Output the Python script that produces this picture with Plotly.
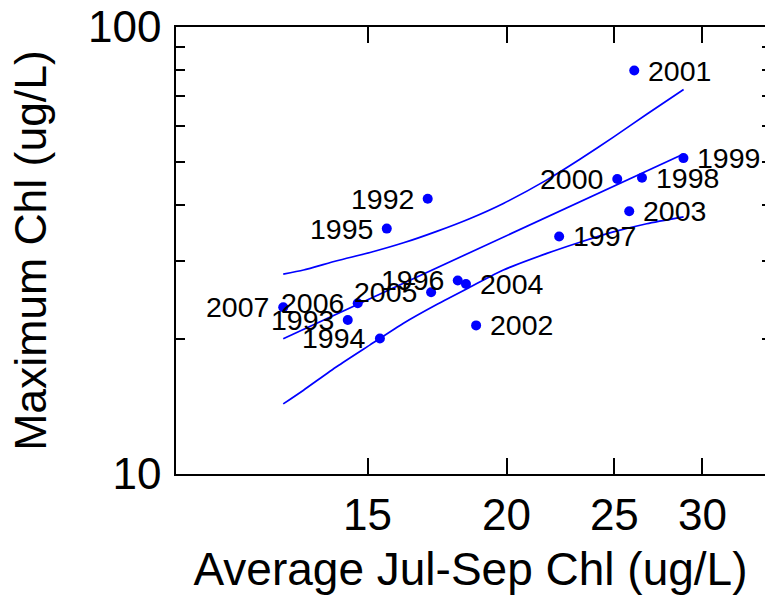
import numpy as np
import plotly.graph_objects as go

# Summer average vs. annual maximum chlorophyll, one point per year
years = [1992, 1993, 1994, 1995, 1996, 1997, 1998, 1999,
         2000, 2001, 2002, 2003, 2004, 2005, 2006, 2007]
avg_chl = [16.99, 14.40, 15.39, 15.61, 18.08, 22.30, 26.47, 28.84,
           25.15, 26.05, 18.78, 25.78, 18.39, 17.11, 14.70, 12.60]
max_chl = [41.3, 22.1, 20.1, 35.4, 27.1, 34.0, 46.0, 50.9,
           45.7, 79.9, 21.5, 38.7, 26.6, 25.5, 24.1, 23.6]

# years whose label sits to the left of the point
left_labelled = {1992, 1993, 1994, 1995, 1996, 2000, 2005, 2006, 2007}

# log-log regression line and its confidence band
fit_x = [12.60, 28.85]
fit_y = [20.07, 52.0]
band_x = [12.60, 13.14, 14.08, 15.08, 16.16, 17.31, 18.55, 19.87,
          21.74, 23.28, 24.95, 26.73, 28.85]
band_upper = [28.0, 28.6, 30.0, 31.3, 32.9, 34.9, 37.3, 40.3,
              45.5, 50.6, 56.7, 63.8, 72.5]
band_lower = [14.35, 15.4, 17.4, 19.45, 21.75, 23.95, 26.2, 28.6,
              31.15, 33.0, 34.8, 36.3, 37.6]

x_ticks = [15, 20, 25, 30]
y_major = [10, 100]
y_minor = [20, 30, 40, 50, 60, 70, 80, 90]

FONT = "Arial, Liberation Sans, sans-serif"
BLUE = "#0000FF"

fig = go.Figure()

for band in (band_upper, band_lower):
    fig.add_trace(go.Scatter(
        x=band_x, y=band, mode="lines",
        line=dict(color=BLUE, width=1.7, shape="spline", smoothing=0.6),
        hoverinfo="skip", showlegend=False))

fig.add_trace(go.Scatter(
    x=fit_x, y=fit_y, mode="lines",
    line=dict(color=BLUE, width=1.7),
    hoverinfo="skip", showlegend=False))

fig.add_trace(go.Scatter(
    x=avg_chl, y=max_chl, mode="markers",
    marker=dict(color=BLUE, size=10, line=dict(width=0)),
    text=[str(y) for y in years],
    hovertemplate="%{text}: %{x}, %{y}<extra></extra>",
    showlegend=False))

# carrier for the right-hand tick marks
fig.add_trace(go.Scatter(x=[None], y=[None], yaxis="y2",
                         showlegend=False, hoverinfo="skip"))

annotations = []
for yr, xv, yv in zip(years, avg_chl, max_chl):
    left = yr in left_labelled
    annotations.append(dict(
        x=np.log10(xv), y=np.log10(yv), xref="x", yref="y",
        text=str(yr), showarrow=False,
        xanchor="right" if left else "left", yanchor="middle",
        xshift=-12 if left else 12,
        font=dict(family=FONT, size=28.5, color="black")))

fig.update_layout(
    width=765, height=595,
    margin=dict(l=176, r=0, t=27, b=121),
    paper_bgcolor="white", plot_bgcolor="white",
    font=dict(family=FONT, color="black"),
    annotations=annotations,
    xaxis=dict(
        type="log", range=[1.004, 1.5333],
        tickmode="array", tickvals=x_ticks, ticktext=[str(v) for v in x_ticks],
        ticks="inside", ticklen=16, tickwidth=1.5, tickcolor="black",
        showline=True, linewidth=1.5, linecolor="black", mirror="ticks",
        showgrid=False, zeroline=False,
        tickfont=dict(family=FONT, size=44, color="black"),
        ticklabelstandoff=1,
        title=dict(text="Average Jul-Sep Chl (ug/L)", standoff=24,
                   font=dict(family=FONT, size=46, color="black")),
        automargin=False,
    ),
    yaxis=dict(
        type="log", range=[1, 2],
        tickmode="array", tickvals=y_major, ticktext=[str(v) for v in y_major],
        ticks="inside", ticklen=16, tickwidth=1.5, tickcolor="black",
        minor=dict(tickmode="array", tickvals=y_minor, ticks="inside",
                   ticklen=9, tickwidth=1.5, tickcolor="black", showgrid=False),
        showline=True, linewidth=1.5, linecolor="black", mirror=False,
        showgrid=False, zeroline=False,
        tickfont=dict(family=FONT, size=44, color="black"),
        ticklabelstandoff=4,
        title=dict(text="Maximum Chl (ug/L)", standoff=27,
                   font=dict(family=FONT, size=44.5, color="black")),
        automargin=False,
    ),
    yaxis2=dict(
        type="log", range=[1, 2], overlaying="y", side="right",
        tickmode="array", tickvals=y_major, showticklabels=False,
        ticks="inside", ticklen=16, tickwidth=1.5, tickcolor="black",
        minor=dict(tickmode="array", tickvals=y_minor, ticks="inside",
                   ticklen=3, tickwidth=1.5, tickcolor="black", showgrid=False),
        showline=False, showgrid=False, zeroline=False, automargin=False,
    ),
)

fig.write_html("out.html")
